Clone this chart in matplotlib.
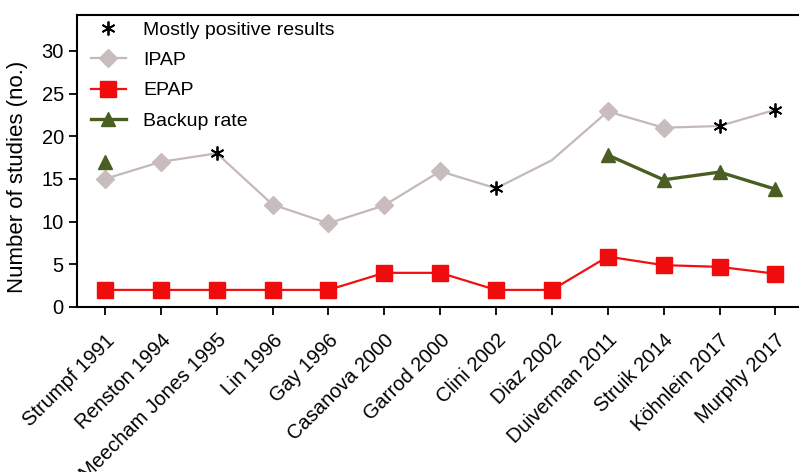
import numpy as np
import matplotlib
matplotlib.use("Agg")
import matplotlib.pyplot as plt

plt.rcParams['font.family'] = ['Liberation Sans', 'DejaVu Sans']

studies = ["Strumpf 1991", "Renston 1994", "Meecham Jones 1995", "Lin 1996", "Gay 1996",
           "Casanova 2000", "Garrod 2000", "Clini 2002", "Diaz 2002", "Duiverman 2011",
           "Struik 2014", "Köhnlein 2017", "Murphy 2017"]
ipap = [15, 17, 18, 12, 9.8, 11.9, 15.9, 13.9, 17.2, 22.9, 21, 21.2, 23.1]
ipap_marked = [0, 1, 3, 4, 5, 6, 9, 10]
positive = [2, 7, 11, 12]
epap = [2, 2, 2, 2, 2, 4, 4, 2, 2, 5.9, 4.9, 4.7, 3.9]
backup = [17, np.nan, np.nan, np.nan, np.nan, np.nan, np.nan, np.nan, np.nan,
          17.8, 14.9, 15.8, 13.8]

x = np.arange(len(studies))

fig = plt.figure(figsize=(7.99, 4.72), dpi=100)
ax = fig.add_axes([0.0964, 0.3496, 0.909, 0.6186])

ax.plot(x, ipap, color='#c4b8b8', lw=1.6, marker='D', ms=9,
        markevery=ipap_marked, mfc='#c9bcbc', mec='#c9bcbc', label='IPAP', zorder=2)
ax.plot(x, epap, color='#f01010', lw=1.6, marker='s', ms=11,
        mfc='#f00c0c', mec='#f00c0c', label='EPAP', zorder=3)
ax.plot(x, backup, color='#4a5e24', lw=2.4, marker='^', ms=10,
        mfc='#4a5e24', mec='#4a5e24', label='Backup rate', zorder=3)
ax.plot(x[positive], np.array(ipap)[positive], ls='none', marker=(6, 2, 0), ms=10,
        mec='black', mew=1.3, color='black', label='Mostly positive results', zorder=4)

ax.set_xlim(-0.5, 12.5)
ax.set_ylim(0, 34.2)
ax.set_yticks([0, 5, 10, 15, 20, 25, 30])
ax.set_xticks(x)
ax.set_xticklabels(studies, rotation=45, ha='right', rotation_mode='anchor',
                   fontsize=14.5)
ax.tick_params(axis='y', labelsize=14.5, direction='out', length=6, width=1.3)
ax.tick_params(axis='x', direction='out', length=6, width=1.3, pad=11)
ax.set_ylabel('Number of studies (no.)', fontsize=16)
ax.yaxis.set_label_coords(-0.067, 0.445)
for s in ['left', 'bottom', 'top']:
    ax.spines[s].set_linewidth(1.5)
ax.spines['right'].set_visible(False)

h, l = ax.get_legend_handles_labels()
order = [3, 0, 1, 2]
ax.legend([h[i] for i in order], [l[i] for i in order], loc='upper left',
          frameon=False, fontsize=14, bbox_to_anchor=(0.0, 1.025),
          handlelength=1.8, handletextpad=0.9, labelspacing=0.65, borderaxespad=0.3)

fig.savefig('out.png', dpi=100)
